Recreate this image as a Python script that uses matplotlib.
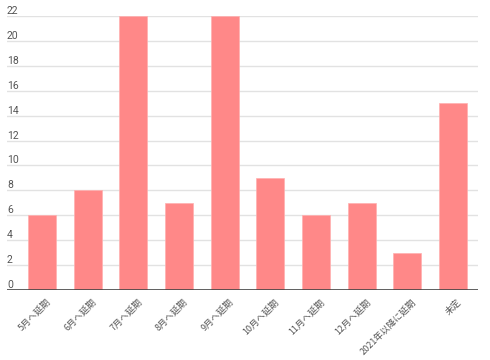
import matplotlib
matplotlib.use("Agg")
import matplotlib.pyplot as plt
import matplotlib.transforms as mtransforms

plt.rcParams['font.family'] = ['Noto Sans CJK JP', 'DejaVu Sans']

categories = ['5月へ延期', '6月へ延期', '7月へ延期', '8月へ延期', '9月へ延期',
              '10月へ延期', '11月へ延期', '12月へ延期', '2021年以降に延期', '未定']
values = [6, 8, 22, 7, 22, 9, 6, 7, 3, 15]
yticks = list(range(0, 23, 2))

fig = plt.figure(figsize=(4.9, 3.6), dpi=100)
ax = fig.add_axes([7/490, 70/360, 471/490, 274/360])

x = list(range(len(categories)))
ax.bar(x, values, width=0.61, color='#ff8888', edgecolor='#ffb0b0', linewidth=0.5, zorder=2)

ax.set_xlim(-0.767, 9.548)
ax.set_ylim(0, 22)

for y in yticks[1:]:
    ax.axhline(y, color='#e2e2e2', linewidth=1, zorder=1)
ax.axhline(0, color='#444444', linewidth=1.2, zorder=3)

trans = mtransforms.blended_transform_factory(ax.transAxes, ax.transData)
for y in yticks:
    ax.text(0, y, str(y), transform=trans, ha='left', va='bottom',
            fontsize=7.5, color='#555555', fontfamily='Roboto')

ax.set_yticks([])
ax.set_xticks([i + 0.08 for i in x])
ax.set_xticklabels(categories, rotation=45, ha='right', rotation_mode='anchor',
                   fontsize=6.5, color='#555555')
ax.tick_params(axis='x', length=0, pad=5)
for s in ax.spines.values():
    s.set_visible(False)

fig.savefig('out.png', dpi=100)
